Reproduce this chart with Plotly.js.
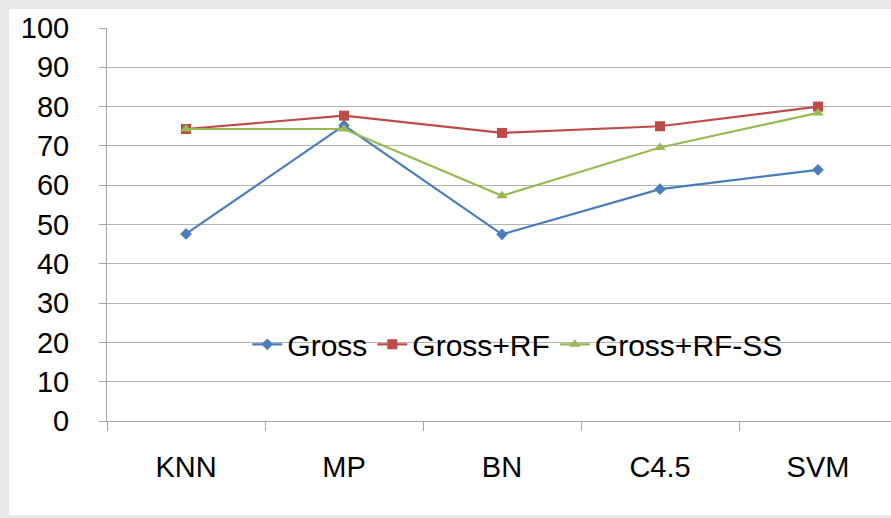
<!DOCTYPE html>
<html>
<head>
<meta charset="utf-8">
<script src="https://cdn.plot.ly/plotly-3.0.1.min.js"></script>
<style>
html,body{margin:0;padding:0;overflow:hidden;width:891px;height:518px;background:#e9e9e9;}
#chart{position:absolute;left:9px;top:9px;width:900px;height:506px;background:#fff;}
</style>
</head>
<body>
<div id="chart"></div>
<script>
const categories = ["KNN", "MP", "BN", "C4.5", "SVM"];
const gross = [47.6, 75.2, 47.5, 59.0, 63.9];
const grossRF = [74.3, 77.7, 73.3, 75.0, 80.0];
const grossRFSS = [74.3, 74.3, 57.3, 69.6, 78.4];
const seriesNames = ["Gross", "Gross+RF", "Gross+RF-SS"];
const yTicks = [0, 10, 20, 30, 40, 50, 60, 70, 80, 90, 100];

const axisFont = {family: "Liberation Sans, Arial, sans-serif", size: 29, color: "#000"};
const legendFont = {family: "Liberation Sans, Arial, sans-serif", size: 30, color: "#000"};

const traces = [
  {x: categories, y: gross, name: seriesNames[0], type: "scatter", mode: "lines+markers",
   line: {color: "#4a7ebb", width: 2.2}, marker: {symbol: "diamond", size: 9, color: "#4a7ebb"}},
  {x: categories, y: grossRF, name: seriesNames[1], type: "scatter", mode: "lines+markers",
   line: {color: "#be4b48", width: 2.2}, marker: {symbol: "square", size: 10, color: "#be4b48"}},
  {x: categories, y: grossRFSS, name: seriesNames[2], type: "scatter", mode: "lines+markers",
   line: {color: "#98b954", width: 2.2}, marker: {symbol: "triangle-up", size: 10, color: "#98b954"}}
];

const layout = {
  width: 900, height: 506,
  margin: {l: 98, r: 12, t: 19, b: 94},
  paper_bgcolor: "#ffffff", plot_bgcolor: "#ffffff",
  font: axisFont,
  showlegend: true,
  legend: {orientation: "h", x: 0.52, xanchor: "center", y: 0.195, yanchor: "middle",
           font: legendFont, bgcolor: "rgba(0,0,0,0)", itemwidth: 30, tracegroupgap: 0},
  xaxis: {type: "category", range: [-0.5, 4.5], showgrid: false, zeroline: false,
          showline: true, linecolor: "#a6a6a6", linewidth: 1,
          ticks: "outside", tickson: "boundaries", ticklen: 9, tickcolor: "#a6a6a6",
          ticklabelstandoff: 20, tickfont: axisFont},
  yaxis: {range: [0, 100], tickvals: yTicks, showgrid: true, gridcolor: "#b3b3b3", gridwidth: 1,
          zeroline: false, showline: true, linecolor: "#a6a6a6", linewidth: 1,
          ticks: "outside", ticklen: 7, tickcolor: "#a6a6a6", ticklabelstandoff: 24, tickfont: axisFont}
};

Plotly.newPlot("chart", traces, layout, {displayModeBar: false, staticPlot: true});
</script>
</body>
</html>
